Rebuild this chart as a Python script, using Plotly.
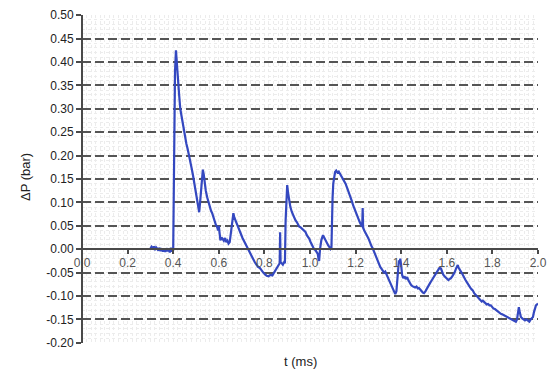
import plotly.graph_objects as go

# Pressure trace: time (ms) and pressure difference (bar)
t_ms = [
    0.300, 0.305, 0.310, 0.315, 0.320, 0.325, 0.330, 0.335, 0.340, 0.345,
    0.350, 0.355, 0.360, 0.365, 0.370, 0.375, 0.380, 0.385, 0.390, 0.395,
    0.400, 0.401, 0.403, 0.405, 0.408, 0.412, 0.415, 0.418, 0.422, 0.426,
    0.431, 0.436, 0.442, 0.447, 0.453, 0.458, 0.463, 0.468, 0.475, 0.480,
    0.486, 0.491, 0.497, 0.502, 0.507, 0.511, 0.514, 0.518, 0.522, 0.526,
    0.530, 0.534, 0.538, 0.543, 0.549, 0.555, 0.561, 0.566, 0.571, 0.577,
    0.582, 0.587, 0.593, 0.597, 0.600, 0.603, 0.607, 0.612, 0.617, 0.622,
    0.628, 0.633, 0.638, 0.643, 0.648, 0.652, 0.656, 0.660, 0.664, 0.668,
    0.674, 0.680, 0.686, 0.692, 0.698, 0.704, 0.710, 0.716, 0.722, 0.727,
    0.733, 0.739, 0.745, 0.752, 0.758, 0.765, 0.772, 0.780, 0.787, 0.795,
    0.803, 0.810, 0.818, 0.826, 0.835, 0.842, 0.849, 0.855, 0.862, 0.867,
    0.869, 0.871, 0.876, 0.881, 0.886, 0.890, 0.893, 0.897, 0.900, 0.904,
    0.909, 0.914, 0.920, 0.926, 0.931, 0.936, 0.942, 0.947, 0.953, 0.958,
    0.964, 0.970, 0.975, 0.980, 0.986, 0.992, 0.997, 1.002, 1.008, 1.013,
    1.018, 1.024, 1.030, 1.034, 1.037, 1.040, 1.044, 1.050, 1.057, 1.062,
    1.068, 1.074, 1.080, 1.086, 1.090, 1.094, 1.096, 1.099, 1.102, 1.106,
    1.110, 1.115, 1.120, 1.126, 1.131, 1.137, 1.143, 1.150, 1.156, 1.162,
    1.168, 1.173, 1.178, 1.184, 1.189, 1.195, 1.200, 1.206, 1.212, 1.218,
    1.224, 1.229, 1.231, 1.233, 1.238, 1.243, 1.248, 1.253, 1.259, 1.264,
    1.270, 1.275, 1.281, 1.286, 1.292, 1.297, 1.303, 1.308, 1.314, 1.319,
    1.325, 1.330, 1.336, 1.341, 1.347, 1.352, 1.358, 1.363, 1.369, 1.374,
    1.379, 1.383, 1.387, 1.390, 1.393, 1.396, 1.400, 1.404, 1.409, 1.415,
    1.420, 1.426, 1.431, 1.437, 1.443, 1.449, 1.455, 1.461, 1.467, 1.473,
    1.478, 1.484, 1.490, 1.495, 1.500, 1.506, 1.511, 1.516, 1.521, 1.527,
    1.532, 1.537, 1.543, 1.548, 1.553, 1.558, 1.563, 1.568, 1.574, 1.579,
    1.584, 1.590, 1.595, 1.601, 1.607, 1.612, 1.618, 1.624, 1.629, 1.634,
    1.640, 1.645, 1.648, 1.652, 1.657, 1.662, 1.667, 1.672, 1.677, 1.682,
    1.687, 1.692, 1.698, 1.703, 1.709, 1.714, 1.720, 1.725, 1.731, 1.736,
    1.742, 1.747, 1.753, 1.758, 1.763, 1.769, 1.775, 1.781, 1.787, 1.793,
    1.799, 1.805, 1.811, 1.818, 1.824, 1.830, 1.837, 1.843, 1.851, 1.858,
    1.866, 1.873, 1.881, 1.888, 1.895, 1.903, 1.908, 1.913, 1.916, 1.920,
    1.925, 1.931, 1.937, 1.943, 1.949, 1.956, 1.962, 1.968, 1.974, 1.978,
    1.982, 1.986, 1.991, 1.996, 2.000,
]
dp_bar = [
    0.002, 0.005, 0.000, 0.006, -0.002, 0.004, 0.001, -0.003, 0.003, -0.004,
    0.002, -0.005, 0.001, -0.006, 0.002, -0.004, 0.000, -0.007, 0.003, -0.005,
    -0.002, 0.080, 0.085, 0.300, 0.380, 0.425, 0.400, 0.390, 0.360, 0.330,
    0.300, 0.285, 0.270, 0.255, 0.240, 0.225, 0.215, 0.205, 0.190, 0.175,
    0.160, 0.145, 0.133, 0.120, 0.100, 0.085, 0.079, 0.100, 0.130, 0.155,
    0.170, 0.160, 0.140, 0.125, 0.111, 0.100, 0.090, 0.082, 0.077, 0.068,
    0.058, 0.052, 0.047, 0.040, 0.050, 0.030, 0.019, 0.025, 0.022, 0.018,
    0.024, 0.015, 0.018, 0.012, 0.015, 0.030, 0.055, 0.070, 0.077, 0.068,
    0.060, 0.052, 0.047, 0.040, 0.032, 0.024, 0.018, 0.012, 0.006, 0.002,
    -0.006, -0.012, -0.018, -0.024, -0.028, -0.033, -0.038, -0.040, -0.046, -0.050,
    -0.054, -0.057, -0.058, -0.055, -0.056, -0.050, -0.044, -0.038, -0.034, -0.030,
    0.036, -0.028, -0.030, -0.033, -0.028, -0.030, 0.060, 0.120, 0.137, 0.120,
    0.102, 0.090, 0.080, 0.072, 0.066, 0.062, 0.058, 0.052, 0.048, 0.047,
    0.044, 0.042, 0.038, 0.037, 0.030, 0.026, 0.022, 0.016, 0.010, 0.006,
    0.000, -0.002, -0.006, -0.010, -0.020, -0.025, 0.000, 0.020, 0.030, 0.025,
    0.018, 0.012, 0.008, 0.004, 0.000, 0.002, 0.100, 0.110, 0.140, 0.160,
    0.165, 0.168, 0.164, 0.166, 0.162, 0.155, 0.150, 0.145, 0.140, 0.132,
    0.125, 0.118, 0.111, 0.102, 0.094, 0.086, 0.079, 0.070, 0.062, 0.058,
    0.052, 0.048, 0.088, 0.046, 0.040, 0.034, 0.030, 0.026, 0.020, 0.012,
    0.006, 0.002, -0.006, -0.012, -0.018, -0.024, -0.032, -0.038, -0.042, -0.045,
    -0.050, -0.048, -0.055, -0.060, -0.066, -0.072, -0.080, -0.086, -0.092, -0.096,
    -0.090, -0.070, -0.040, -0.024, -0.030, -0.020, -0.035, -0.055, -0.062, -0.058,
    -0.064, -0.060, -0.066, -0.072, -0.076, -0.079, -0.081, -0.082, -0.080, -0.084,
    -0.083, -0.088, -0.090, -0.093, -0.094, -0.090, -0.085, -0.081, -0.077, -0.072,
    -0.068, -0.064, -0.060, -0.054, -0.050, -0.046, -0.042, -0.040, -0.041, -0.048,
    -0.054, -0.058, -0.060, -0.062, -0.066, -0.064, -0.062, -0.058, -0.054, -0.050,
    -0.042, -0.036, -0.034, -0.040, -0.046, -0.048, -0.052, -0.058, -0.062, -0.066,
    -0.070, -0.073, -0.078, -0.082, -0.086, -0.088, -0.094, -0.097, -0.100, -0.102,
    -0.106, -0.108, -0.112, -0.110, -0.113, -0.116, -0.118, -0.117, -0.120, -0.120,
    -0.124, -0.127, -0.128, -0.131, -0.134, -0.136, -0.138, -0.139, -0.141, -0.143,
    -0.145, -0.146, -0.148, -0.150, -0.153, -0.155, -0.150, -0.135, -0.124, -0.135,
    -0.145, -0.148, -0.150, -0.152, -0.150, -0.152, -0.155, -0.150, -0.146, -0.145,
    -0.135, -0.125, -0.120, -0.118, -0.116,
]

# Axis ticks
x_ticks = [0.0, 0.2, 0.4, 0.6, 0.8, 1.0, 1.2, 1.4, 1.6, 1.8, 2.0]
x_tick_labels = ["0.0", "0.2", "0.4", "0.6", "0.8", "1.0", "1.2", "1.4", "1.6", "1.8", "2.0"]
y_ticks = [0.50, 0.45, 0.40, 0.35, 0.30, 0.25, 0.20, 0.15, 0.10, 0.05, 0.00,
           -0.05, -0.10, -0.15, -0.20]
y_tick_labels = ["0.50", "0.45", "0.40", "0.35", "0.30", "0.25", "0.20", "0.15",
                 "0.10", "0.05", "0.00", "-0.05", "-0.10", "-0.15", "-0.20"]

Y_MIN, Y_MAX = -0.20, 0.50
X_MIN, X_MAX = 0.0, 2.0
AXIS_COLOR = "#4a4a4a"
FONT = "Liberation Sans, Arial, sans-serif"

fig = go.Figure()
fig.add_trace(go.Scatter(
    x=t_ms, y=dp_bar, mode="lines",
    line=dict(color="rgb(52,72,192)", width=2.2),
    hoverinfo="skip",
))

# vertical axis line along t = 0
fig.add_shape(type="line", xref="x", yref="y",
              x0=X_MIN, x1=X_MIN, y0=Y_MIN, y1=Y_MAX,
              line=dict(color=AXIS_COLOR, width=2), layer="above")

fig.update_layout(
    width=550, height=375,
    margin=dict(l=82, r=12, t=15, b=32, autoexpand=False),
    paper_bgcolor="white", plot_bgcolor="white",
    showlegend=False,
    font=dict(family=FONT, size=12, color="#222"),
    xaxis=dict(
        range=[X_MIN, X_MAX],
        anchor="free",
        position=(0 - Y_MIN) / (Y_MAX - Y_MIN),
        automargin=False,
        tickmode="array", tickvals=x_ticks, ticktext=x_tick_labels,
        ticks="outside", ticklen=4, tickwidth=1.5, tickcolor=AXIS_COLOR,
        tickfont=dict(size=12, color="#555"),
        ticklabelstandoff=-2,
        showline=True, linecolor=AXIS_COLOR, linewidth=2,
        showgrid=False, zeroline=False,
        minor=dict(dtick=0.02, tick0=0, showgrid=True, gridcolor="#ececec",
                   griddash="dot", gridwidth=1),
    ),
    yaxis=dict(
        range=[Y_MIN - 0.0005, Y_MAX + 0.0005],
        anchor="free", position=0,
        automargin=False,
        tickmode="array", tickvals=y_ticks, ticktext=y_tick_labels,
        ticks="outside", ticklen=5, tickwidth=1.5, tickcolor=AXIS_COLOR,
        tickfont=dict(size=12, color="#222"),
        showline=True, linecolor=AXIS_COLOR, linewidth=2,
        showgrid=True, gridcolor="#555", gridwidth=1.8, griddash="9px,4px",
        zeroline=True, zerolinecolor=AXIS_COLOR, zerolinewidth=2,
        minor=dict(dtick=0.01, tick0=0, showgrid=True, gridcolor="#ececec",
                   griddash="dot", gridwidth=1),
    ),
    annotations=[
        dict(text="ΔP (bar)", xref="paper", yref="paper",
             x=(25 - 82) / 456, y=(343 - 177) / 328, textangle=-90,
             showarrow=False, font=dict(size=13, color="#222"),
             xanchor="center", yanchor="middle"),
        dict(text="t (ms)", xref="paper", yref="paper",
             x=(300 - 82) / 456, y=(343 - 361) / 328,
             showarrow=False, font=dict(size=13, color="#222"),
             xanchor="center", yanchor="middle"),
    ],
)

fig.write_html("out.html")
